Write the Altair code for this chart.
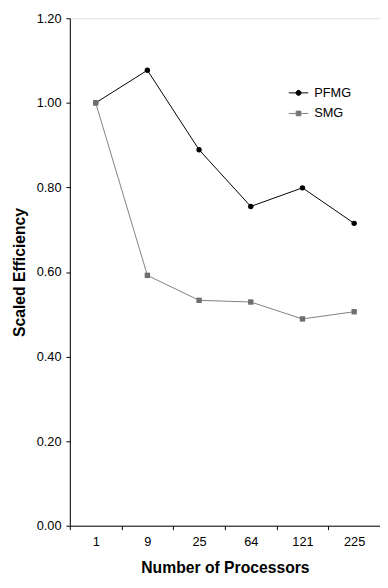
import altair as alt
import pandas as pd

processors = ["1", "9", "25", "64", "121", "225"]
pfmg = [1.00, 1.077, 0.889, 0.755, 0.799, 0.715]
smg = [1.00, 0.592, 0.533, 0.529, 0.489, 0.506]
series = ["PFMG", "SMG"]
line_colors = ["#000000", "#808080"]
marker_colors = ["#000000", "#6e6e6e"]
markers = ["circle", "square"]

rows = []
for s, vals in zip(series, [pfmg, smg]):
    for p, v in zip(processors, vals):
        rows.append({"Processors": p, "Efficiency": v, "Series": s})
df = pd.DataFrame(rows)

FONT = "Liberation Sans"

x_enc = alt.X(
    "Processors:O", sort=processors, bandPosition=0.5,
    scale=alt.Scale(type="band", paddingInner=0, paddingOuter=0),
    axis=alt.Axis(title="Number of Processors", labelAngle=0, tickBand="extent",
                  tickSize=4, labelPadding=6, titlePadding=12, domainColor="#000",
                  tickColor="#000", labelFontSize=13, titleFontSize=16,
                  titleFontWeight="bold", grid=False, labelColor="#000", titleColor="#000"),
)
y_enc = alt.Y(
    "Efficiency:Q",
    scale=alt.Scale(domain=[0, 1.2], nice=False, zero=True),
    axis=alt.Axis(title="Scaled Efficiency", values=[0, 0.2, 0.4, 0.6, 0.8, 1.0, 1.2],
                  format=".2f", tickSize=4, labelPadding=5, titlePadding=9,
                  domainColor="#000", tickColor="#000", labelFontSize=13,
                  titleFontSize=16, titleFontWeight="bold", grid=False,
                  labelColor="#000", titleColor="#000"),
)

base = alt.Chart(df)
layers = []
for s, lc, mc, mk in zip(series, line_colors, marker_colors, markers):
    sub = base.transform_filter(alt.datum.Series == s)
    layers.append(sub.mark_line(strokeWidth=1, color=lc).encode(x=x_enc, y=y_enc))
    layers.append(sub.mark_point(filled=True, opacity=1, size=30, shape=mk, color=mc).encode(x=x_enc, y=y_enc))

pfmg_shape = "M-1.4,0H1.4M-0.36,0A0.36,0.36,0,1,1,0.36,0A0.36,0.36,0,1,1,-0.36,0Z"
smg_shape = "M-1.4,0H1.4M-0.34,-0.34H0.34V0.34H-0.34Z"

legend_layer = base.transform_filter("false").mark_point(
    filled=True, opacity=1, strokeWidth=1
).encode(
    x=x_enc, y=y_enc,
    shape=alt.Shape("Series:N", scale=alt.Scale(domain=series, range=[pfmg_shape, smg_shape]),
                    legend=alt.Legend(title=None, orient="none", legendX=225, legendY=68,
                                      symbolSize=200, labelFontSize=13, labelOffset=8,
                                      rowPadding=6, labelColor="#000", symbolStrokeWidth=1)),
    fill=alt.Fill("Series:N", scale=alt.Scale(domain=series, range=marker_colors)),
    stroke=alt.Stroke("Series:N", scale=alt.Scale(domain=series, range=line_colors)),
)
layers.append(legend_layer)

chart = alt.layer(*layers).properties(
    width=316, height=517,
    autosize=alt.AutoSizeParams(type="none"),
    padding={"left": 63, "top": 5, "right": 0, "bottom": 58},
).configure_view(stroke=None).configure(font=FONT)

chart.save("out.html", embed_options={"renderer": "svg", "actions": False})
